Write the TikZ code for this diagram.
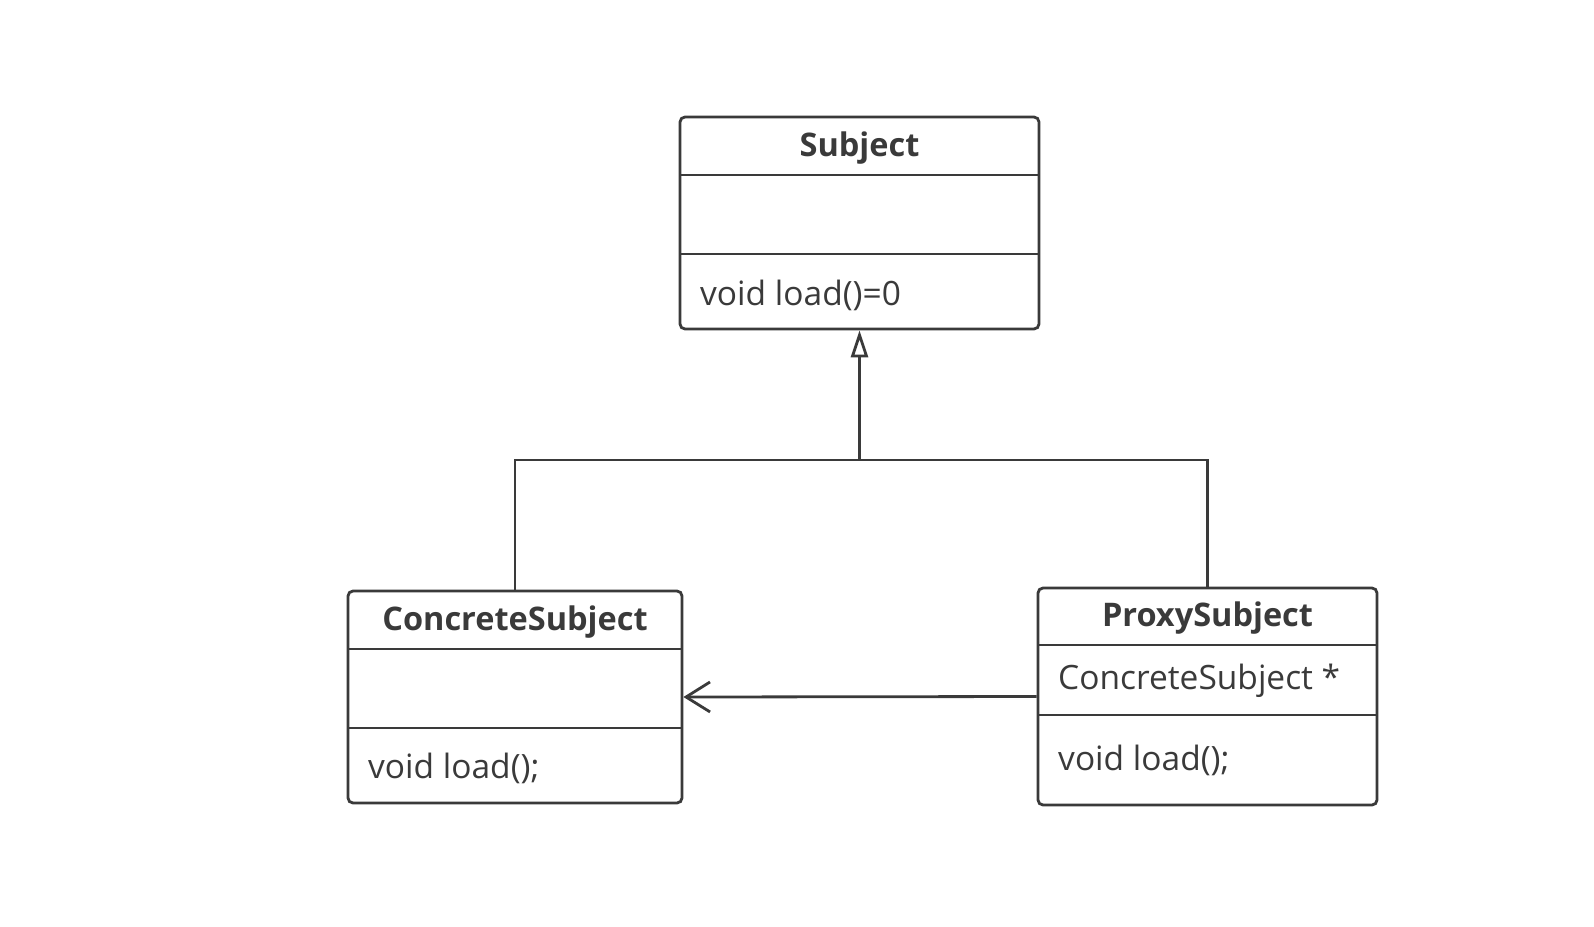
\documentclass[tikz,border=0pt]{standalone}
\usepackage{fontspec}
\setmainfont{Open Sans}
\usetikzlibrary{arrows.meta}
\definecolor{ink}{RGB}{58,58,58}
\tikzset{
  classbox/.style={draw=ink, line width=2.8pt, rounded corners=5pt, inner sep=0pt, fill=white},
  divider/.style={draw=ink, line width=2.8pt},
  conn/.style={draw=ink, line width=2.8pt},
  title/.style={text=ink, font=\fontsize{32.5}{38}\selectfont\bfseries, inner sep=0pt},
  member/.style={text=ink, font=\fontsize{33.5}{39}\selectfont, inner sep=0pt, anchor=west},
}
\begin{document}
\begin{tikzpicture}[x=1pt, y=-1pt]
\useasboundingbox (0,0) rectangle (1594,926);
% Subject
\node[classbox, minimum width=359pt, minimum height=212pt] (subj) at (859.5,223) {};
\draw[divider] (680,175) -- (1039,175);
\draw[divider] (680,254) -- (1039,254);
\node[title] (subjT) at (859.5,148) {Subject};
\node[member] (subjM) at (700,295) {void load()=0};
% ConcreteSubject
\node[classbox, minimum width=334pt, minimum height=212pt] (conc) at (515,697) {};
\draw[divider] (348,649) -- (682,649);
\draw[divider] (348,728) -- (682,728);
\node[title] (concT) at (515,622) {ConcreteSubject};
\node[member] (concM) at (368,768) {void load();};
% ProxySubject
\node[classbox, minimum width=339pt, minimum height=217pt] (prox) at (1207.5,696.5) {};
\draw[divider] (1038,645) -- (1377,645);
\draw[divider] (1038,715) -- (1377,715);
\node[title] (proxT) at (1207.5,618) {ProxySubject};
\node[member] (proxA) at (1058,681) {ConcreteSubject *};
\node[member] (proxM) at (1058,760) {void load();};
% connectors
\coordinate (bus) at (859.5,460);
\draw[conn] (conc.north) |- (bus);
\draw[conn] (prox.north) |- (bus);
\draw[conn, -{Triangle[open, length=27pt, width=17pt, line width=2.8pt]}] (bus) -- (subj.south);
\draw[conn, -{Straight Barb[length=24pt, width=30pt, line width=2.8pt]}] (prox.west) -- (conc.east);
\end{tikzpicture}
\end{document}
